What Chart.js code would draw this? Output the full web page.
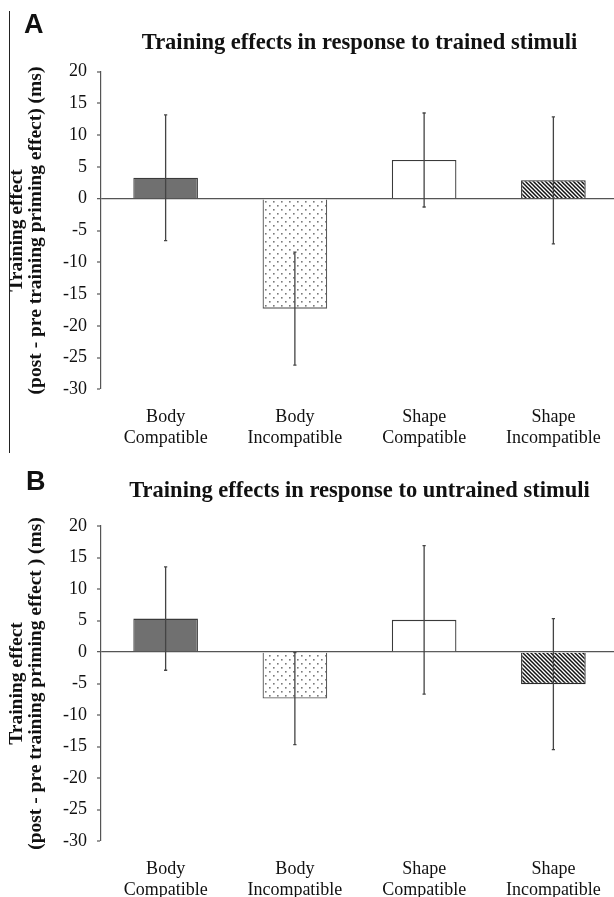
<!DOCTYPE html>
<html><head><meta charset="utf-8">
<script src="https://cdn.jsdelivr.net/npm/chart.js@4.4.1/dist/chart.umd.min.js"></script>
<style>
html,body{margin:0;padding:0;background:#fff;overflow:hidden;width:614px;height:897px;}
#wrap{position:relative;width:614px;height:897px;overflow:hidden;background:#fff;}
canvas{position:absolute;left:0;}
#cA{top:0;} #cB{top:450px;}
.letter{position:absolute;font:bold 27px "Liberation Sans",Arial,sans-serif;line-height:1;color:#111;}
#vline{position:absolute;left:8.5px;top:11px;width:1.5px;height:442px;background:#222;}
</style></head><body>
<div id="wrap">
<canvas id="cA" width="618" height="470"></canvas>
<canvas id="cB" width="618" height="470"></canvas>
<div id="vline"></div>
<div class="letter" style="left:24px;top:11px">A</div>
<div class="letter" style="left:26px;top:467.5px">B</div>
</div>
<script>
// ---- data ----
const categories = [['Body','Compatible'],['Body','Incompatible'],['Shape','Compatible'],['Shape','Incompatible']];
const trainedMeans = [3.3, -17.3, 6.1, 2.9];
const trainedErrors = [9.9, 8.9, 7.4, 10.0];
const untrainedMeans = [5.3, -7.4, 5.1, -5.1];
const untrainedErrors = [8.2, 7.3, 11.8, 10.4];
const yMin = -30, yMax = 20, yStep = 5;
const titleA = 'Training effects in response to trained stimuli';
const titleB = 'Training effects in response to untrained stimuli';
const yTitleA = ['Training effect', '(post - pre training priming effect) (ms)'];
const yTitleB = ['Training effect', '(post - pre training priming effect ) (ms)'];

// ---- patterns ----
function dotPattern(){
  const c = document.createElement('canvas'); c.width = 8; c.height = 8;
  const g = c.getContext('2d');
  g.fillStyle = '#fff'; g.fillRect(0,0,8,8);
  g.fillStyle = '#7a7a7a';
  g.fillRect(1,1,1.6,1.6); g.fillRect(5,5,1.6,1.6);
  return g.createPattern(c,'repeat');
}
function hatchPattern(){
  const s = 4;
  const c = document.createElement('canvas'); c.width = s; c.height = s;
  const g = c.getContext('2d');
  g.fillStyle = '#fff'; g.fillRect(0,0,s,s);
  g.strokeStyle = '#111'; g.lineWidth = 1.5;
  for (const off of [-4,0,4]) {
    g.beginPath(); g.moveTo(off-1,-1); g.lineTo(off+s+1,s+1); g.stroke();
  }
  return g.createPattern(c,'repeat');
}
const fills = ['#707070', dotPattern(), '#ffffff', hatchPattern()];
const borders = ['#3a3a3a', '#5a5a5a', '#3a3a3a', '#2a2a2a'];

const serif = '"Liberation Serif","Times New Roman",Times,serif';

const errorBarPlugin = {
  id: 'errorBars',
  afterDatasetsDraw(chart, args, opts) {
    const ctx = chart.ctx, xs = chart.scales.x, ys = chart.scales.y;
    const means = chart.data.datasets[0].data;
    ctx.save();
    ctx.strokeStyle = '#444'; ctx.lineWidth = 1.3;
    means.forEach((m, i) => {
      const e = opts.errors[i];
      const x = xs.getPixelForValue(i);
      const y1 = ys.getPixelForValue(m + e), y2 = ys.getPixelForValue(m - e);
      ctx.beginPath();
      ctx.moveTo(x, y1); ctx.lineTo(x, y2);
      ctx.moveTo(x-1.6, y1); ctx.lineTo(x+1.6, y1);
      ctx.moveTo(x-1.6, y2); ctx.lineTo(x+1.6, y2);
      ctx.stroke();
    });
    ctx.restore();
  }
};

function makeChart(id, means, errors, title, yTitle, lay) {
  return new Chart(document.getElementById(id), {
    type: 'bar',
    data: {
      labels: categories,
      datasets: [{
        data: means,
        backgroundColor: fills,
        borderColor: borders,
        borderWidth: 1.3,
        borderSkipped: 'start',
        barPercentage: 0.5,
        categoryPercentage: 1.0
      }]
    },
    plugins: [errorBarPlugin],
    options: {
      responsive: false,
      animation: false,
      devicePixelRatio: 1,
      layout: { padding: { left: 0, right: 0, top: 0, bottom: lay.bottom } },
      plugins: {
        legend: { display: false },
        tooltip: { enabled: false },
        title: {
          display: true, text: title, fullSize: false,
          color: '#111',
          font: { family: serif, size: 22.5, weight: 'bold', lineHeight: 1.2 },
          padding: { top: lay.titleTop, bottom: lay.titleBottom }
        },
        errorBars: { errors: errors }
      },
      scales: {
        x: {
          grid: { display: false, drawTicks: false },
          border: { display: false },
          ticks: { color: '#111', padding: 17, maxRotation: 0, autoSkip: false,
                   font: { family: serif, size: 18, lineHeight: 1.2 } }
        },
        y: {
          min: yMin, max: yMax,
          afterFit(scale) { scale.width = 101; },
          ticks: { stepSize: yStep, color: '#111', padding: 10,
                   font: { family: serif, size: 18 } },
          grid: {
            drawTicks: true, tickLength: 4, tickColor: '#555', tickWidth: 1.2,
            color: c => (c.tick && c.tick.value === 0) ? '#555' : 'rgba(0,0,0,0)',
            lineWidth: c => (c.tick && c.tick.value === 0) ? 1.3 : 0
          },
          border: { display: true, color: '#555', width: 1.2 },
          title: {
            display: true, text: yTitle, color: '#111',
            font: { family: serif, size: 19.5, weight: 'bold', lineHeight: 0.98 },
            padding: { top: 7.7, bottom: 0 }
          }
        }
      }
    }
  });
}

makeChart('cA', trainedMeans, trainedErrors, titleA, yTitleA, { bottom: 3.5, titleTop: 30, titleBottom: 14.7 });
makeChart('cB', untrainedMeans, untrainedErrors, titleB, yTitleB, { bottom: 1.8, titleTop: 27.3, titleBottom: 21.7 });
</script>
</body></html>
